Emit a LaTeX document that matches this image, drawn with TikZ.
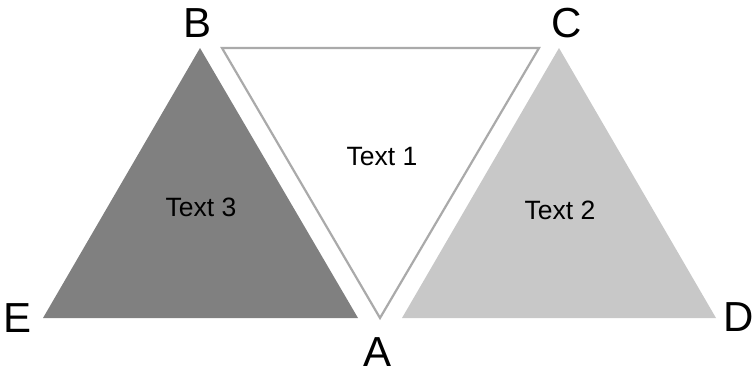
\documentclass[tikz,border=0pt]{standalone}
\usepackage{fontspec}
\setmainfont{Liberation Sans}
\definecolor{darkgr}{HTML}{808080}
\definecolor{lightgr}{HTML}{C8C8C8}
\definecolor{edgegr}{HTML}{AAAAAA}
\tikzset{
  corner/.style={inner sep=0pt, font=\fontsize{42}{50}\selectfont},
  inlabel/.style={inner sep=0pt, font=\fontsize{26.5}{32}\selectfont},
}
\begin{document}
\begin{tikzpicture}[x=1pt,y=-1pt]
\useasboundingbox (0,0) rectangle (754,372);
% left dark triangle
\coordinate (l1) at (200,48);
\coordinate (l2) at (43,318);
\coordinate (l3) at (358,318);
\fill[darkgr] (l1) -- (l2) -- (l3) -- cycle;
% right light triangle
\coordinate (r1) at (559,48);
\coordinate (r2) at (402,318);
\coordinate (r3) at (716,318);
\fill[lightgr] (r1) -- (r2) -- (r3) -- cycle;
% middle outlined triangle
\coordinate (m1) at (222,48);
\coordinate (m2) at (539,48);
\coordinate (m3) at (380,318);
\draw[edgegr, line width=2.2pt, fill=white, line join=miter] (m1) -- (m2) -- (m3) -- cycle;
% labels
\node[corner] (B) at (198,23) {B};
\node[corner] (C) at (567,23) {C};
\node[corner] (A) at (378,352) {A};
\node[corner] (E) at (18,318) {E};
\node[corner] (D) at (739,317) {D};
\node[inlabel] (t1) at (382,157) {Text 1};
\node[inlabel] (t2) at (560,210) {Text 2};
\node[inlabel] (t3) at (201,207) {Text 3};
\end{tikzpicture}
\end{document}
